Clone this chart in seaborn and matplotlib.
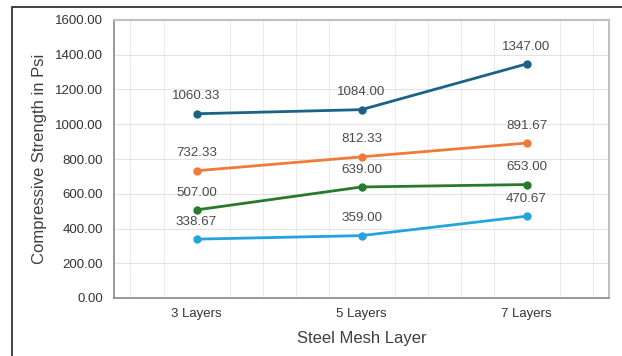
import numpy as np
import pandas as pd
import matplotlib.pyplot as plt
import seaborn as sns
from matplotlib.patches import Rectangle
from matplotlib.ticker import MultipleLocator, FuncFormatter

# Данные
layers = ['3 Layers', '5 Layers', '7 Layers']
series_a = [1060.33, 1084.00, 1347.00]
series_b = [732.33, 812.33, 891.67]
series_c = [507.00, 639.00, 653.00]
series_d = [338.67, 359.00, 470.67]
series_names = ['A', 'B', 'C', 'D']
colors = ['#1b6386', '#f07a3a', '#277a2c', '#25a3dc']

df = pd.DataFrame({
    'layer': layers * 4,
    'value': series_a + series_b + series_c + series_d,
    'series': np.repeat(series_names, len(layers)),
})

sns.set_style('white')
plt.rcParams['font.family'] = ['Liberation Sans', 'DejaVu Sans']

fig = plt.figure(figsize=(6.22, 3.56), dpi=100)
ax = fig.add_axes([114 / 622, 1 - 298 / 356, 495 / 622, 278 / 356])

sns.lineplot(data=df, x='layer', y='value', hue='series', palette=colors,
             marker='o', markersize=6, markeredgewidth=0, linewidth=2,
             legend=False, ax=ax)

# подписи значений
for name in series_names:
    sub = df[df['series'] == name].reset_index(drop=True)
    for i, row in sub.iterrows():
        ax.annotate(f"{row['value']:.2f}", (i, row['value']), xytext=(0, 12.5),
                    textcoords='offset points', ha='center', va='center',
                    fontsize=9.6, color='#4a4a4a')

ax.set_xlim(-0.5, 2.5)
ax.set_ylim(0, 1600)
ax.yaxis.set_major_locator(MultipleLocator(200))
ax.yaxis.set_major_formatter(FuncFormatter(lambda v, p: f'{v:.2f}'))
ax.xaxis.set_minor_locator(MultipleLocator(0.2))
ax.grid(True, which='major', axis='y', color='#e4e4e4', linewidth=0.8)
ax.grid(True, which='minor', axis='x', color='#ececec', linewidth=0.8)
ax.set_axisbelow(True)

ax.tick_params(axis='y', length=0, pad=8, labelsize=9.5, labelcolor='#333333')
ax.tick_params(axis='x', which='major', length=0, pad=7, labelsize=9.5, labelcolor='#333333')
ax.tick_params(axis='x', which='minor', length=3, color='#888888', direction='in')

for side in ['left', 'bottom']:
    ax.spines[side].set_color('#888888')
    ax.spines[side].set_linewidth(1.2)
for side in ['top', 'right']:
    ax.spines[side].set_color('#c0c0c0')
    ax.spines[side].set_linewidth(1.5)

ax.set_xlabel('Steel Mesh Layer', fontsize=12, color='#404040', labelpad=8)
ax.set_ylabel('Compressive Strength in Psi', fontsize=12, color='#404040', labelpad=6)

# внешняя рамка
fig.patches.append(Rectangle((12 / 622, -0.05), 1.1, 1 - 7 / 356 + 0.05,
                             transform=fig.transFigure, fill=False,
                             edgecolor='#222222', linewidth=1.2))

fig.savefig('out.png', dpi=100)
